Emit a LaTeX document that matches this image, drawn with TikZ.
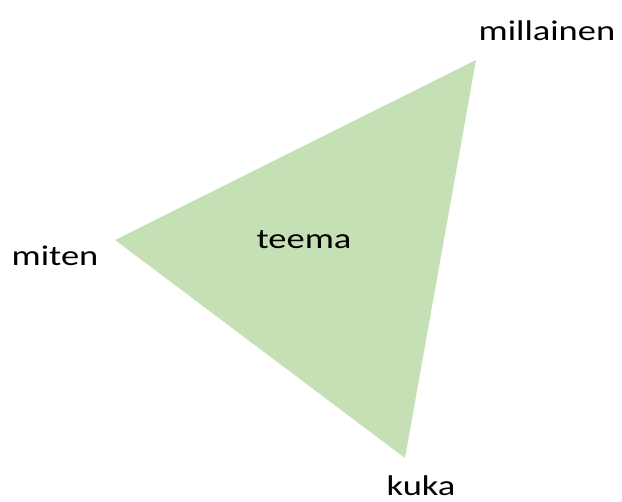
\documentclass[tikz,border=0pt]{standalone}
\usepackage{fontspec}
\usepackage{graphicx}
\setmainfont{Carlito}
\definecolor{leaf}{HTML}{C5E0B4}
\newcommand{\widetext}[1]{\scalebox{1.28}[1]{#1}}
\begin{document}
\begin{tikzpicture}[x=1pt,y=-1pt,
  lbl/.style={font=\fontsize{28.5}{34}\selectfont, inner sep=0pt}]
\useasboundingbox (0,0) rectangle (622,502);
\coordinate (top) at (476,60);
\coordinate (lft) at (115,240);
\coordinate (bot) at (405,458);
\fill[leaf] (top) -- (lft) -- (bot) -- cycle;
\node[lbl] (teema) at (304,240) {\widetext{teema}};
\node[lbl] (millainen) at (547,31) {\widetext{millainen}};
\node[lbl] (miten) at (55,256) {\widetext{miten}};
\node[lbl] (kuka) at (421,485.5) {\widetext{kuka}};
\end{tikzpicture}
\end{document}
